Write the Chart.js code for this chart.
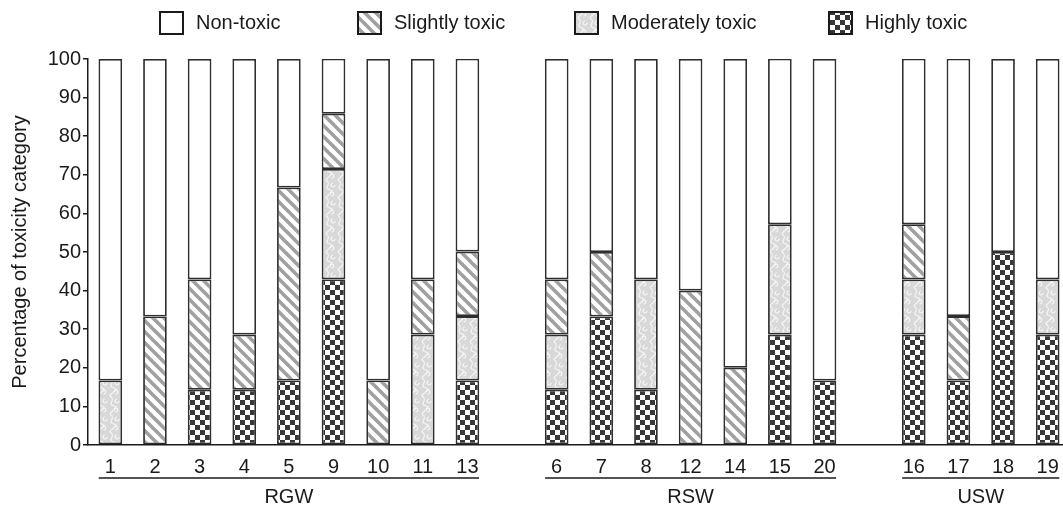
<!DOCTYPE html>
<html>
<head>
<meta charset="utf-8">
<script src="https://cdn.jsdelivr.net/npm/chart.js@4/dist/chart.umd.min.js"></script>
<style>
  html, body { margin: 0; padding: 0; background: #fff; overflow: hidden; }
</style>
</head>
<body>
<canvas id="myChart" width="1070" height="510"></canvas>
<script>
// sites, blank entries are the gaps between the groups
const categories = ['1', '2', '3', '4', '5', '9', '10', '11', '13', '', '6', '7', '8', '12', '14', '15', '20', '', '16', '17', '18', '19'];
const highlyToxic     = [0, 0, 14.3, 14.3, 16.7, 42.9, 0, 0, 16.7, null, 14.3, 33.3, 14.3, 0, 0, 28.6, 16.7, null, 28.6, 16.7, 50, 28.6];
const moderatelyToxic = [16.7, 0, 0, 0, 0, 28.6, 0, 28.6, 16.7, null, 14.3, 0, 28.6, 0, 0, 28.6, 0, null, 14.3, 0, 0, 14.3];
const slightlyToxic   = [0, 33.3, 28.6, 14.3, 50, 14.3, 16.7, 14.3, 16.7, null, 14.3, 16.7, 0, 40, 20, 0, 0, null, 14.3, 16.7, 0, 0];
const nonToxic        = [83.3, 66.7, 57.1, 71.4, 33.3, 14.3, 83.3, 57.1, 50, null, 57.1, 50, 57.1, 60, 80, 42.9, 83.3, null, 42.9, 66.7, 50, 57.1];
const yTicks = [0, 10, 20, 30, 40, 50, 60, 70, 80, 90, 100];

const groupNames = ['RGW', 'RSW', 'USW'];
const groupFirst = [0, 10, 18];
const groupLast  = [8, 16, 21];

const FONT = '"Liberation Sans", Arial, Helvetica, sans-serif';
const INK = '#1a1a1a';
Chart.defaults.font.family = FONT;

const ctx = document.getElementById('myChart').getContext('2d');

// fill patterns
function makeTile(w, h, draw) {
    const c = document.createElement('canvas');
    c.width = w; c.height = h;
    const g = c.getContext('2d');
    draw(g, w, h);
    return ctx.createPattern(c, 'repeat');
}

const stripePattern = makeTile(11, 11, (g, w, h) => {
    g.fillStyle = '#fff';
    g.fillRect(0, 0, w, h);
    g.strokeStyle = '#a0a0a0';
    g.lineWidth = 3.6;
    for (let k = -1; k <= 1; k++) {
        g.beginPath();
        g.moveTo(-1, k * w - 1);
        g.lineTo(w + 1, k * w + w + 1);
        g.stroke();
    }
});

const swirlPattern = makeTile(12, 18, (g, w, h) => {
    g.fillStyle = '#d8d8d8';
    g.fillRect(0, 0, w, h);
    g.strokeStyle = '#f6f6f6';
    g.lineWidth = 1.2;
    g.beginPath();
    g.moveTo(2, 0);
    g.bezierCurveTo(9, 4, -2, 8, 6, 10);
    g.bezierCurveTo(12, 12, 2, 15, 2, 18);
    g.stroke();
    g.beginPath();
    g.arc(9, 5, 2, 0, Math.PI * 1.5);
    g.stroke();
    g.beginPath();
    g.arc(8, 14, 1.8, Math.PI, Math.PI * 2.6);
    g.stroke();
});

const checkerPattern = makeTile(10, 10, (g, w, h) => {
    g.fillStyle = '#fff';
    g.fillRect(0, 0, w, h);
    g.fillStyle = '#383838';
    g.fillRect(0, 0, 5, 5);
    g.fillRect(5, 5, 5, 5);
});

const seriesNames = ['Highly toxic', 'Moderately toxic', 'Slightly toxic', 'Non-toxic'];
const seriesFills = [checkerPattern, swirlPattern, stripePattern, '#ffffff'];
const seriesData = [highlyToxic, moderatelyToxic, slightlyToxic, nonToxic];

// legend drawn by hand so the boxes can sit where the figure has them
const legendOrder = [3, 2, 1, 0];
const legendX = [160, 358, 575, 829];

const legendAndGroups = {
    id: 'legendAndGroups',
    afterDraw(chart) {
        const c = chart.ctx;
        const xs = chart.scales.x;
        c.save();
        c.font = '20px ' + FONT;
        c.textBaseline = 'middle';
        legendOrder.forEach((s, i) => {
            const x = legendX[i];
            c.fillStyle = seriesFills[s];
            c.fillRect(x, 12, 23, 22);
            c.strokeStyle = INK;
            c.lineWidth = 2;
            c.strokeRect(x, 12, 23, 22);
            c.fillStyle = INK;
            c.textAlign = 'left';
            c.fillText(seriesNames[s], x + 36, 23);
        });

        // group brackets under the site labels
        const half = xs.width / categories.length * 0.26;
        groupNames.forEach((name, i) => {
            const x1 = xs.getPixelForValue(groupFirst[i]) - half;
            const x2 = xs.getPixelForValue(groupLast[i]) + half;
            c.strokeStyle = INK;
            c.lineWidth = 1.5;
            c.beginPath();
            c.moveTo(x1, 478);
            c.lineTo(x2, 478);
            c.stroke();
            c.fillStyle = INK;
            c.textAlign = 'center';
            c.fillText(name, (x1 + x2) / 2, 497);
        });
        c.restore();
    }
};

new Chart(ctx, {
    type: 'bar',
    data: {
        labels: categories,
        datasets: seriesData.map((d, i) => ({
            label: seriesNames[i],
            data: d.map(v => (v ? v : null)),
            backgroundColor: seriesFills[i],
            borderColor: '#2e2e2e',
            borderWidth: 1.8,
            borderSkipped: false,
            barPercentage: 0.53,
            categoryPercentage: 1.0
        }))
    },
    options: {
        responsive: false,
        animation: false,
        layout: { padding: { top: 59, left: 0, right: 0, bottom: 0 } },
        plugins: {
            legend: { display: false },
            tooltip: { enabled: false }
        },
        scales: {
            x: {
                stacked: true,
                grid: { display: false },
                border: { display: true, color: INK, width: 1.5 },
                ticks: {
                    color: INK,
                    font: { size: 20 },
                    padding: 2,
                    autoSkip: false,
                    maxRotation: 0
                },
                afterFit(scale) { scale.height = 65; }
            },
            y: {
                stacked: true,
                min: 0,
                max: 100,
                afterBuildTicks(scale) { scale.ticks = yTicks.map(v => ({ value: v })); },
                ticks: {
                    color: INK,
                    font: { size: 20 },
                    padding: 2
                },
                grid: {
                    display: true,
                    drawOnChartArea: false,
                    drawTicks: true,
                    tickLength: 5,
                    color: INK,
                    lineWidth: 1.5
                },
                border: { display: true, color: INK, width: 1.5 },
                title: {
                    display: true,
                    text: 'Percentage of toxicity category',
                    color: INK,
                    font: { size: 20 },
                    padding: { top: 8, bottom: 0 }
                },
                afterFit(scale) { scale.width = 88; }
            }
        }
    },
    plugins: [legendAndGroups]
});
</script>
</body>
</html>
